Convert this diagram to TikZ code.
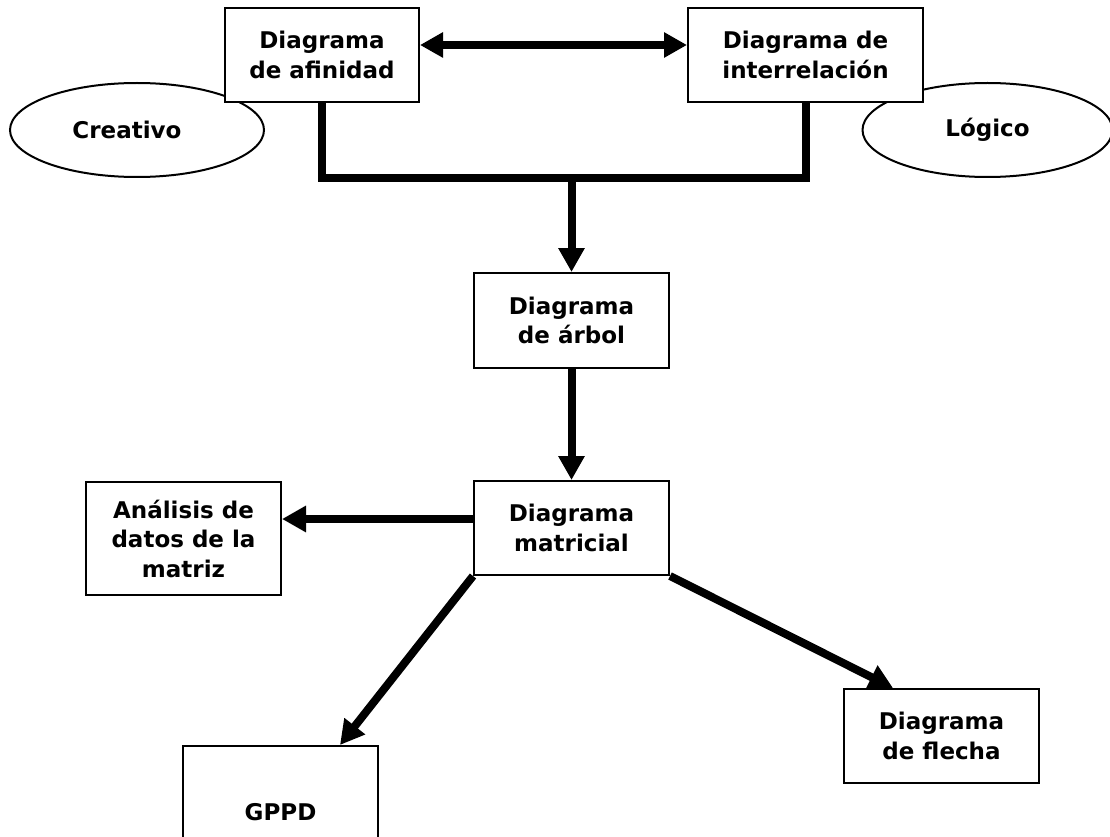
\documentclass[tikz,border=0pt]{standalone}
\usepackage{fontspec}
\setmainfont{DejaVu Sans}
\usetikzlibrary{arrows.meta,shapes.geometric}
\begin{document}
\begin{tikzpicture}[x=1pt,y=-1pt,
  txt/.style={font=\bfseries\fontsize{23}{29.5}\selectfont, align=center},
  box/.style={txt, draw, line width=2pt, fill=white, inner sep=0pt},
  oval/.style={draw, line width=2pt, ellipse, inner sep=0pt},
  conn/.style={line width=8pt, line join=miter},
  arr/.style={conn, -{Triangle[length=24pt,width=25pt]}},
  darr/.style={conn, {Triangle[length=23pt,width=24pt]}-{Triangle[length=23pt,width=24pt]}}]
\useasboundingbox (0,0) rectangle (1110,837);
\clip (0,0) rectangle (1110,837);
\fill[white] (0,0) rectangle (1110,837);

% side ellipses (drawn first, boxes sit on top)
\node[oval, minimum width=254pt, minimum height=94pt] (creativoOval) at (137,130) {};
\node[txt] (creativo) at (127,130) {Creativo};
\node[oval, txt, minimum width=250pt, minimum height=94pt] (logico) at (987.5,130) {Lógico};

% boxes
\node[box, minimum width=194pt, minimum height=94pt] (afin) at (322,55) {Diagrama\\de afinidad};
\node[box, minimum width=235pt, minimum height=94pt] (inter) at (805.5,55) {Diagrama de\\interrelación};
\node[box, minimum width=195pt, minimum height=95pt] (arbol) at (571.5,320.5) {Diagrama\\de árbol};
\node[box, minimum width=195pt, minimum height=94pt] (matri) at (571.5,528) {Diagrama\\matricial};
\node[box, minimum width=195pt, minimum height=113pt] (anal) at (183.5,538.5) {Análisis de\\datos de la\\matriz};
\node[box, minimum width=195pt, minimum height=132pt] (gppd) at (280.5,812) {GPPD};
\node[box, minimum width=195pt, minimum height=94pt] (flecha) at (941.5,736) {Diagrama\\de flecha};

% connectors
\coordinate (bus) at (571.5,178);
\draw[darr] ([yshift=10pt]afin.east) -- ([yshift=10pt]inter.west);
\draw[conn] (afin.south) |- (bus) -| (inter.south);
\draw[arr] (bus) -- (arbol.north);
\draw[arr] (arbol) -- (matri);
\draw[arr] ([yshift=9pt]matri.west) -- ([yshift=9pt]matri.west -| anal.east);
\draw[arr] (matri.south west) -- ([xshift=59.5pt]gppd.north);
\draw[arr] (matri.south east) -- ([xshift=-48.5pt]flecha.north);
\end{tikzpicture}
\end{document}
